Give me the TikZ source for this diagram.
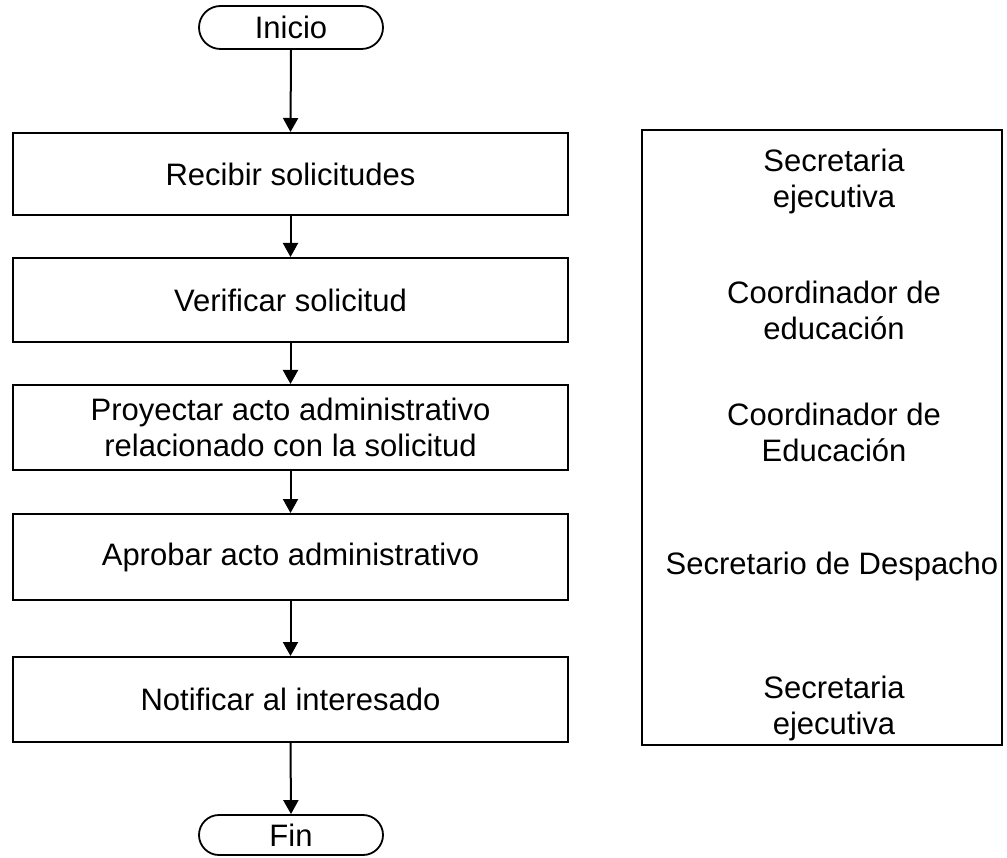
\documentclass[tikz,border=0pt]{standalone}
\usepackage{fontspec}
\setmainfont{Liberation Sans}
\usetikzlibrary{shapes.misc,arrows.meta}
\begin{document}
\begin{tikzpicture}[x=1pt,y=-1pt,
  every node/.style={font=\fontsize{31}{36}\selectfont, inner sep=0pt, align=center},
  stepbox/.style={draw, line width=2pt, minimum width=555pt},
  term/.style={draw, line width=1.8pt, rounded rectangle, minimum width=184pt},
  flow/.style={line width=2pt, -{Triangle[length=14pt,width=15pt]}},
  role/.style={}]
\useasboundingbox (0,0) rectangle (1007,858);
\node[term, minimum height=43pt] (ini) at (291,27.5) {Inicio};
\node[stepbox, minimum height=82pt] (b1) at (290.5,174) {Recibir solicitudes};
\node[stepbox, minimum height=84pt] (b2) at (290.5,300) {Verificar solicitud};
\node[stepbox, minimum height=85pt] (b3) at (290.5,427.5) {Proyectar acto administrativo\\relacionado con la solicitud};
\node[stepbox, minimum height=86pt] (b4) at (290.5,557) {Aprobar acto administrativo};
\node[stepbox, minimum height=85pt] (b5) at (290.5,699.5) {Notificar al interesado};
\node[term, minimum height=40pt] (fin) at (291,835) {Fin};
\draw[flow] (ini.south) -- (b1.north);
\draw[flow] (b1.south) -- (b2.north);
\draw[flow] (b2.south) -- (b3.north);
\draw[flow] (b3.south) -- (b4.north);
\draw[flow] (b4.south) -- (b5.north);
\draw[flow] (b5.south) -- (fin.north);
\node[draw, line width=2pt, minimum width=360pt, minimum height=615pt] (roles) at (822,437.5) {};
\node[role] (r1) at (834,181) {Secretaria\\ejecutiva};
\node[role] (r2) at (834,310) {Coordinador de\\educación};
\node[role] (r3) at (834,432) {Coordinador de\\Educación};
\node[role] (r4) at (832,566) {Secretario de Despacho};
\node[role] (r5) at (834,708) {Secretaria\\ejecutiva};
\end{tikzpicture}
\end{document}
